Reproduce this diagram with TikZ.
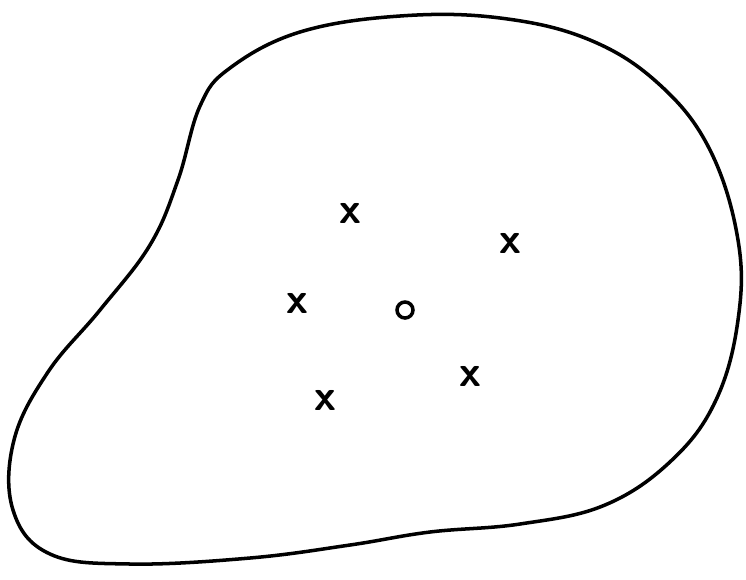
\documentclass[tikz,border=0pt]{standalone}
\usepackage{tikz}
\usetikzlibrary{positioning}

\begin{document}
\begin{tikzpicture}[x=0.02cm, y=-0.02cm]
    % Define styles
    \tikzstyle{cross} = [font=\sffamily\bfseries\Huge, inner sep=0pt]
    \tikzstyle{centre} = [circle, draw=black, line width=2pt, minimum size=0.32cm, inner sep=0pt]
    \tikzstyle{outline} = [line width=2pt, line join=round]

    \useasboundingbox (0,0) rectangle (746,579);

    % Region
    \draw [outline] plot [smooth cycle, tension=0.65] coordinates {
        (230,68) (300,32) (400,16) (500,18) (590,40) (660,85) (710,150)
        (738,240) (738,320) (716,400) (672,460) (605,505) (520,524)
        (430,532) (350,545) (250,558) (130,564) (50,554) (13,510)
        (14,440) (48,372) (100,310) (150,245) (178,180) (200,106)};

    % Nodes
    \node [cross] (p1) at (350,213) {x};
    \node [cross] (p2) at (510,243) {x};
    \node [cross] (p3) at (297,303) {x};
    \node [cross] (p4) at (470,376) {x};
    \node [cross] (p5) at (325,400) {x};
    \node [centre] (mean) at (405,310) {};
\end{tikzpicture}
\end{document}
